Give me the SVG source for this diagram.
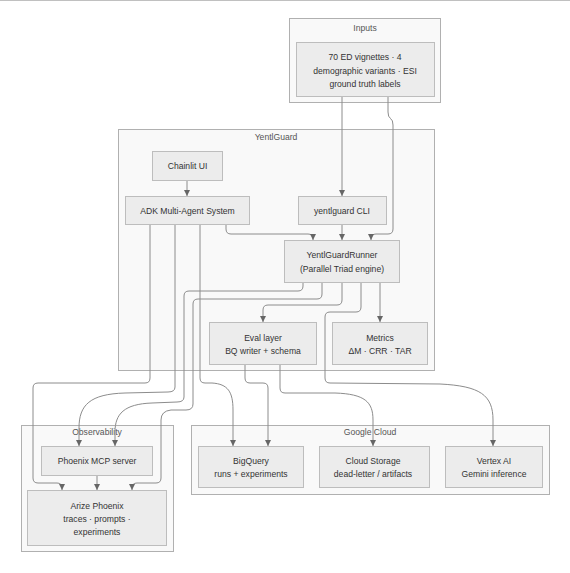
<svg xmlns="http://www.w3.org/2000/svg" width="570" height="573" viewBox="0 0 570 573">
<style>
.cl{fill:#f9f9f9;stroke:#b0b0b0;stroke-width:1}
.nd{fill:#ececec;stroke:#bdbdbd;stroke-width:1}
.t{font-family:"Liberation Sans",Arial,sans-serif;font-size:8.6px;fill:#333;text-anchor:middle;dominant-baseline:central}
.ct{font-family:"Liberation Sans",Arial,sans-serif;font-size:8.6px;fill:#555;text-anchor:middle;dominant-baseline:central}
.e{fill:none;stroke:#8c8c8c;stroke-width:1;marker-end:url(#ah)}
</style>
<defs>
<marker id="ah" viewBox="0 0 10 10" refX="10" refY="5" markerWidth="6" markerHeight="6" markerUnits="userSpaceOnUse" orient="auto">
<path d="M0,0 L10,5 L0,10 z" fill="#666"/>
</marker>
</defs>
<rect width="570" height="573" fill="#ffffff"/>
<line x1="0" y1="0.5" x2="570" y2="0.5" stroke="#c0c0c0" stroke-width="1"/>

<g id="clusters">
<g id="cluster-inputs"><rect class="cl" x="289.5" y="18.5" width="151" height="84"/><text class="ct" x="365" y="28">Inputs</text></g>
<g id="cluster-yentlguard"><rect class="cl" x="118.5" y="129.5" width="316" height="241"/><text class="ct" x="276" y="136.5">YentlGuard</text></g>
<g id="cluster-observability"><rect class="cl" x="21.5" y="425.5" width="152" height="126"/><text class="ct" x="97" y="432">Observability</text></g>
<g id="cluster-gcp"><rect class="cl" x="191.5" y="425.5" width="358" height="69"/><text class="ct" x="370" y="432">Google Cloud</text></g>
</g>

<g id="connectors">
<path class="e" d="M342,97 L342,196"/>
<path class="e" d="M388,97 L388,112 Q388,117 390.5,118.5 Q393,120 393,125 L393,229 Q393,234 388,234 L376,234 Q371,234 371,239 L371,240"/>
<path class="e" d="M342,225 L342,240"/>
<path class="e" d="M226,225 L226,229 Q226,234 231,234 L308,234 Q313,234 313,239 L313,240"/>
<path class="e" d="M187,180 L187,196"/>
<path class="e" d="M150,225 L150,378 Q150,383 145,383 L38,383 Q33,383 33,388 L33,478 Q33,483 38,483 L57,483 Q62,483 62,488 L62,490"/>
<path class="e" d="M175,225 L175,387 Q175,392 168,392 L125,393 C90,394 79,405 79,428 L79,446"/>
<path class="e" d="M303,282 L303,286 Q303,291 298,291 L189,291 Q184,291 184,296 L184,397 Q184,402 177,402 L152,403 C124,404 115,414 115,432 L115,446"/>
<path class="e" d="M322,282 L322,294 Q322,299 317,299 L198,299 Q193,299 193,304 L193,404 Q193,410 186,410 L171,410 Q161,411 161,420 L161,478 Q161,483 156,483 L137,483 Q132,483 132,488 L132,490"/>
<path class="e" d="M342,282 L342,300 Q342,305 337,305 L268,305 Q263,305 263,310 L263,322"/>
<path class="e" d="M361,282 L361,307 Q361,312 356,312 L330,312 Q325,312 325,317 L325,378 Q325,383 330,383 L440,384 C480,386 493,395 493,420 L493,446"/>
<path class="e" d="M380,282 L380,322"/>
<path class="e" d="M200,225 L200,378 Q200,383 205,383 L212,383 C228,384 233,392 233,410 L233,446"/>
<path class="e" d="M245,364 L245,378 Q245,383 250,383 L263,383 Q268,383 268,388 L268,446"/>
<path class="e" d="M280,364 L280,388 Q280,393 285,393 L335,393 C365,394 373,402 373,420 L373,446"/>
<path class="e" d="M97,475 L97,490"/>
</g>

<g id="node-inputs"><rect class="nd" x="296.5" y="42.5" width="138" height="54"/>
<text class="t" x="365" y="57">70 ED vignettes · 4</text><text class="t" x="365" y="71">demographic variants · ESI</text><text class="t" x="365" y="84">ground truth labels</text></g>
<g id="node-chainlit"><rect class="nd" x="152.5" y="151.5" width="70" height="29"/><text class="t" x="187.5" y="165.5">Chainlit UI</text></g>
<g id="node-adk"><rect class="nd" x="125.5" y="196.5" width="124" height="28"/><text class="t" x="187.5" y="210.5">ADK Multi-Agent System</text></g>
<g id="node-cli"><rect class="nd" x="298.5" y="196.5" width="88" height="28"/><text class="t" x="342" y="210.5">yentlguard CLI</text></g>
<g id="node-runner"><rect class="nd" x="284.5" y="240.5" width="115" height="42"/><text class="t" x="342" y="255">YentlGuardRunner</text><text class="t" x="342" y="268.5">(Parallel Triad engine)</text></g>
<g id="node-eval"><rect class="nd" x="209.5" y="322.5" width="107" height="42"/><text class="t" x="263" y="337.5">Eval layer</text><text class="t" x="263" y="350.5">BQ writer + schema</text></g>
<g id="node-metrics"><rect class="nd" x="332.5" y="322.5" width="95" height="42"/><text class="t" x="380" y="337.5">Metrics</text><text class="t" x="380" y="350.5">ΔM · CRR · TAR</text></g>
<g id="node-mcp"><rect class="nd" x="41.5" y="446.5" width="111" height="29"/><text class="t" x="97" y="461">Phoenix MCP server</text></g>
<g id="node-arize"><rect class="nd" x="27.5" y="490.5" width="139" height="55"/><text class="t" x="97" y="506">Arize Phoenix</text><text class="t" x="97" y="519">traces · prompts ·</text><text class="t" x="97" y="532">experiments</text></g>
<g id="node-bigquery"><rect class="nd" x="198.5" y="446.5" width="105" height="41"/><text class="t" x="251" y="460.5">BigQuery</text><text class="t" x="251" y="473.5">runs + experiments</text></g>
<g id="node-gcs"><rect class="nd" x="319.5" y="446.5" width="110" height="41"/><text class="t" x="373" y="460.5">Cloud Storage</text><text class="t" x="373" y="473.5">dead-letter / artifacts</text></g>
<g id="node-vertex"><rect class="nd" x="445.5" y="446.5" width="97" height="41"/><text class="t" x="494" y="460.5">Vertex AI</text><text class="t" x="494" y="473.5">Gemini inference</text></g>
</svg>
